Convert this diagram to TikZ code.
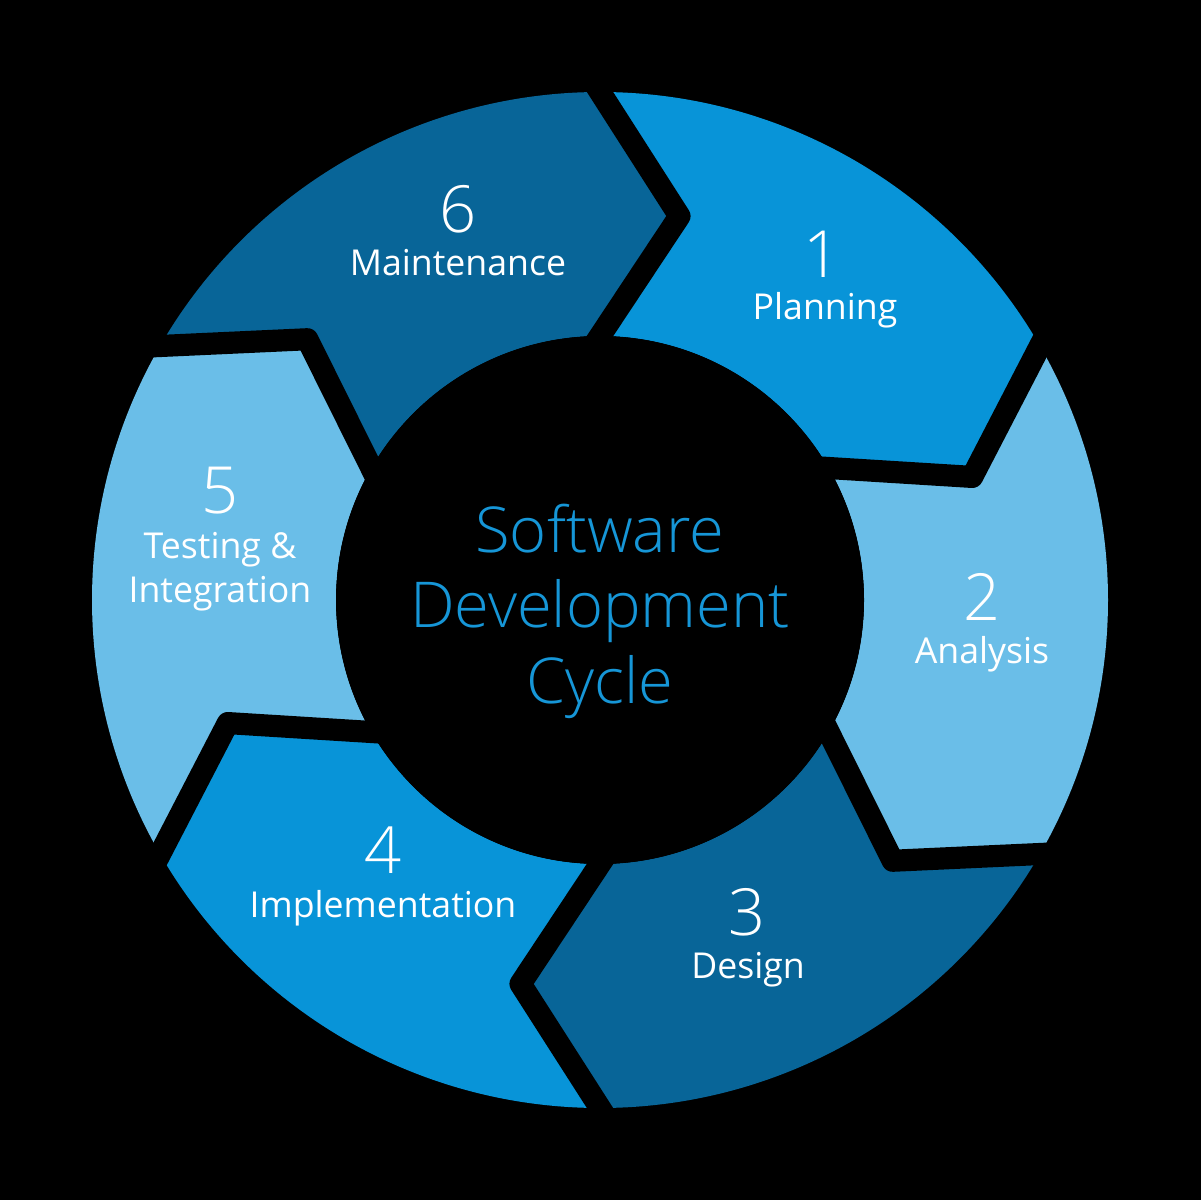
\documentclass[tikz,border=0pt]{standalone}
\usepackage{fontspec}
\setmainfont{Open Sans}
\newfontfamily\lightfont{Open Sans Light}
\usetikzlibrary{calc}
\definecolor{midblue}{RGB}{8,148,216}
\definecolor{lightblue}{RGB}{106,190,232}
\definecolor{darkblue}{RGB}{8,101,152}
\definecolor{titleblue}{RGB}{22,150,215}
\tikzset{
  sep/.style={black, line width=6.3pt, line join=round},
  numlabel/.style={text=white, anchor=base, font=\lightfont\fontsize{18.5pt}{20pt}\selectfont},
  steplabel/.style={text=white, anchor=base, font=\fontsize{10.15pt}{12pt}\selectfont},
  titlelabel/.style={text=titleblue, anchor=base, font=\lightfont\fontsize{18pt}{20pt}\selectfont}
}
\begin{document}
\begin{tikzpicture}[x=1cm,y=1cm]
\fill[black] (0,0) rectangle (12.01,12.00);
\def\Ro{5.08}
\def\Ri{2.64}
\def\Rm{3.92}
\def\dl{11.7}
\begin{scope}[shift={(6.0,6.0)}]
  % ring segments, each an arrow pointing clockwise
  \foreach \a/\c in {90/midblue,30/lightblue,-30/darkblue,-90/midblue,-150/lightblue,150/darkblue}{
    \pgfmathsetmacro\b{\a-60}
    \fill[\c] (\a:\Ro) arc[start angle=\a, end angle=\b, radius=\Ro]
      -- ({\b-\dl}:\Rm) -- (\b:\Ri) arc[start angle=\b, end angle=\a, radius=\Ri]
      -- ({\a-\dl}:\Rm) -- cycle;
  }
  % chevron gaps between the segments
  \foreach \a in {90,30,-30,-90,-150,150}{
    \coordinate (tip) at ({\a-\dl}:\Rm);
    \coordinate (po) at (\a:\Ro);
    \coordinate (pi) at (\a:\Ri);
    \draw[sep] ($(po)!-0.3!(tip)$) -- (tip) -- ($(tip)!1.3!(pi)$);
  }
  \fill[black] (0,0) circle (\Ri);
\end{scope}
% step numbers and names
\node[numlabel] (n1) at (8.22,9.22) {1};
\node[steplabel] (l1) at (8.25,8.80) {Planning};
\node[numlabel] (n2) at (9.82,5.80) {2};
\node[steplabel] (l2) at (9.82,5.37) {Analysis};
\node[numlabel] (n3) at (7.47,2.65) {3};
\node[steplabel] (l3) at (7.48,2.22) {Design};
\node[numlabel] (n4) at (3.83,3.27) {4};
\node[steplabel] (l4) at (3.83,2.83) {Implementation};
\node[numlabel] (n5) at (2.20,6.87) {5};
\node[steplabel] (l5a) at (2.20,6.42) {Testing \&};
\node[steplabel] (l5b) at (2.20,5.98) {Integration};
\node[numlabel] (n6) at (4.58,9.67) {6};
\node[steplabel] (l6) at (4.58,9.24) {Maintenance};
% title in the hub
\node[titlelabel] (t1) at (6.00,6.48) {Software};
\node[titlelabel] (t2) at (6.00,5.73) {Development};
\node[titlelabel] (t3) at (6.00,4.97) {Cycle};
\end{tikzpicture}
\end{document}
